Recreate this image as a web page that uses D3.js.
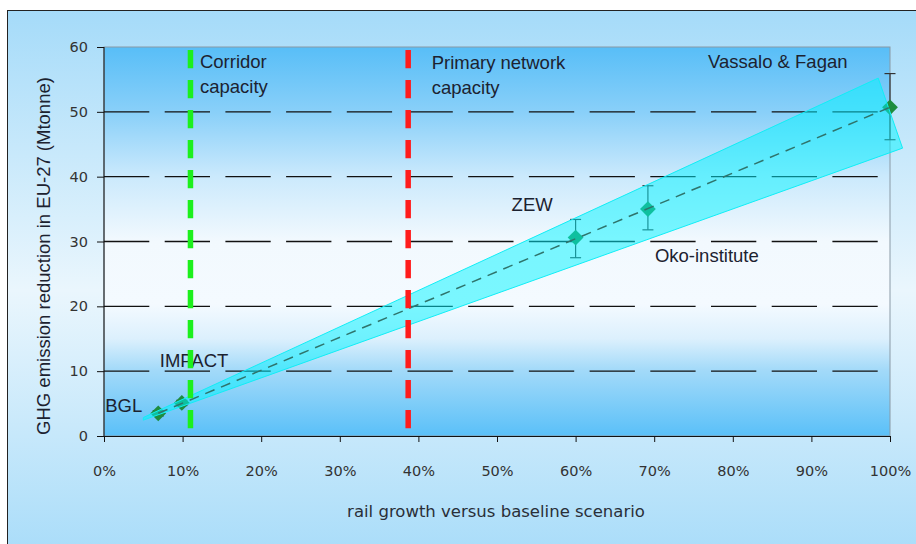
<!DOCTYPE html>
<html>
<head>
<meta charset="utf-8">
<script src="https://cdn.jsdelivr.net/npm/d3@7"></script>
<style>
  body { margin: 0; background: #fff; }
  svg { display: block; }
</style>
</head>
<body>
<svg width="916" height="544"></svg>
<script>
// studies: rail growth (%) vs GHG reduction (Mtonne)
var studies   = ["BGL", "IMPACT", "ZEW", "Oko-institute", "Vassalo & Fagan"];
var growth    = [6.9, 9.9, 60, 69.2, 100];
var reduction = [3.5, 5.1, 30.6, 35.0, 50.7];
var errLow    = [3.1, 4.7, 27.5, 31.8, 45.7];
var errHigh   = [3.9, 5.5, 33.4, 38.6, 55.9];

// shaded band (corners, in data units) and trend line
var bandX = [5.0, 98.5, 101.6, 5.0];
var bandY = [2.85, 55.2, 44.4, 2.45];
var trendX = [6.9, 100];
var trendY = [3.5, 50.7];

// capacity limits
var limitNames = [["Corridor", "capacity"], ["Primary network", "capacity"]];
var limitX = [11.0, 38.7];
var limitColors = ["#1cf01c", "#ff1c1c"];

var xTicks = [0, 10, 20, 30, 40, 50, 60, 70, 80, 90, 100];
var yTicks = [0, 10, 20, 30, 40, 50, 60];

var margin = {top: 47, right: 26, bottom: 108, left: 104},
    width = 916, height = 544;

var svg = d3.select("svg");
var defs = svg.append("defs");

var outerGrad = defs.append("linearGradient").attr("id", "outerGrad")
    .attr("x1", 0).attr("y1", 0).attr("x2", 0).attr("y2", 1);
[[0, "#a5dbf9"], [0.5, "#eaf6fd"], [1, "#a5dbf9"]].forEach(function(s) {
    outerGrad.append("stop").attr("offset", s[0]).attr("stop-color", s[1]);
});

var plotGrad = defs.append("linearGradient").attr("id", "plotGrad")
    .attr("x1", 0).attr("y1", 0).attr("x2", 0).attr("y2", 1);
[[0, "#58bef7"], [0.17, "#8ad0f9"], [0.33, "#cae9fc"], [0.5, "#f2f9fe"],
 [0.66, "#f4faff"], [0.75, "#dcf0fd"], [0.83, "#a3daf9"], [1, "#5ac0f8"]].forEach(function(s) {
    plotGrad.append("stop").attr("offset", s[0]).attr("stop-color", s[1]);
});

// outer frame
svg.append("rect")
    .attr("x", 7.5).attr("y", 10.5).attr("width", 930).attr("height", 560)
    .attr("fill", "url(#outerGrad)").attr("stroke", "#222").attr("stroke-width", 1);

var scX = d3.scaleLinear().domain([0, 100]).range([margin.left, width - margin.right]);
var scY = d3.scaleLinear().domain([0, 60]).range([height - margin.bottom, margin.top]);

// plot area
svg.append("rect")
    .attr("x", scX(0)).attr("y", scY(60))
    .attr("width", scX(100) - scX(0)).attr("height", scY(0) - scY(60))
    .attr("fill", "url(#plotGrad)").attr("stroke", "#8a9aa6").attr("stroke-width", 1);

// dashed horizontal grid
svg.append("g").selectAll("line")
    .data(yTicks.filter(d => d > 0 && d < 60)).enter()
    .append("line")
    .attr("x1", scX(0)).attr("x2", scX(100))
    .attr("y1", d => scY(d)).attr("y2", d => scY(d))
    .attr("stroke", "#111").attr("stroke-width", 1.3)
    .attr("stroke-dasharray", "45.3,15.4");

// axes
var xAxis = svg.append("g")
    .attr("transform", "translate(0," + scY(0) + ")")
    .call(d3.axisBottom(scX).tickValues(xTicks).tickFormat(d => d + "%").tickSize(6).tickPadding(24));
var yAxis = svg.append("g")
    .attr("transform", "translate(" + scX(0) + ",0)")
    .call(d3.axisLeft(scY).tickValues(yTicks).tickSize(7).tickPadding(9));
[xAxis, yAxis].forEach(function(a) {
    a.select(".domain").attr("stroke", "#111");
    a.selectAll(".tick line").attr("stroke", "#111");
    a.selectAll("text").attr("fill", "#333")
        .style("font-family", "'DejaVu Sans', sans-serif").style("font-size", "14.5px");
});
yAxis.select(".domain").attr("d", "M0," + scY(0) + "V" + scY(60));

// axis titles
svg.append("text")
    .attr("x", (scX(0) + scX(100)) / 2 - 1).attr("y", 517)
    .attr("text-anchor", "middle").attr("fill", "#2a2f38")
    .style("font-family", "'DejaVu Sans', sans-serif").style("font-size", "16.5px")
    .text("rail growth versus baseline scenario");

svg.append("text")
    .attr("transform", "translate(50," + 256 + ") rotate(-90)")
    .attr("text-anchor", "middle").attr("fill", "#1c2230")
    .style("font-family", "'Liberation Sans', Arial, sans-serif").style("font-size", "18.5px")
    .text("GHG emission reduction in EU-27 (Mtonne)");

// point labels
var labelFont = "'Liberation Sans', Arial, sans-serif";
var labelOffsets = [[-53, -1], [-22, -36], [-64, -27], [7, 53], [-182, -39]];
svg.append("g").selectAll("text")
    .data(studies).enter()
    .append("text")
    .attr("x", (d, i) => scX(growth[i]) + labelOffsets[i][0])
    .attr("y", (d, i) => scY(reduction[i]) + labelOffsets[i][1])
    .attr("fill", "#1c2230")
    .style("font-family", labelFont).style("font-size", "18.5px")
    .text(d => d);

// error bars
var errs = svg.append("g").attr("stroke", "#333").attr("stroke-width", 1.2);
studies.forEach(function(s, i) {
    var x = scX(growth[i]);
    errs.append("line").attr("x1", x).attr("x2", x)
        .attr("y1", scY(errLow[i])).attr("y2", scY(errHigh[i]));
    [errLow[i], errHigh[i]].forEach(function(v) {
        errs.append("line").attr("x1", x - 5.5).attr("x2", x + 5.5)
            .attr("y1", scY(v)).attr("y2", scY(v));
    });
});

// diamonds
svg.append("g").selectAll("path")
    .data(studies).enter()
    .append("path")
    .attr("d", d3.symbol().type(d3.symbolSquare).size(125))
    .attr("transform", (d, i) => "translate(" + scX(growth[i]) + "," + scY(reduction[i]) + ") rotate(45)")
    .attr("fill", "#1d8d3e");

// band
var bandPts = bandX.map((x, i) => [scX(x), scY(bandY[i])]);
svg.append("path")
    .attr("d", d3.line()(bandPts) + "Z")
    .attr("fill", "#00f4ff").attr("fill-opacity", 0.5)
    .attr("stroke", "#10eef6").attr("stroke-width", 1);

// trend line
svg.append("path")
    .attr("d", d3.line().x((d, i) => scX(trendX[i])).y(d => scY(d))(trendY))
    .attr("fill", "none").attr("stroke", "#2f746c").attr("stroke-width", 1.5)
    .attr("stroke-dasharray", "10,7");

// capacity lines and labels
limitX.forEach(function(v, i) {
    var x = scX(v);
    svg.append("line")
        .attr("x1", x).attr("x2", x).attr("y1", 50).attr("y2", scY(0))
        .attr("stroke", limitColors[i]).attr("stroke-width", 5.5)
        .attr("stroke-dasharray", "18.3,11.7");
    var t = svg.append("text")
        .attr("fill", "#1c2230")
        .style("font-family", labelFont).style("font-size", "18.5px");
    limitNames[i].forEach(function(line, j) {
        t.append("tspan")
            .attr("x", x + (i === 0 ? 9.5 : 23.5))
            .attr("y", 68 + i + j * 25)
            .text(line);
    });
});
</script>
</body>
</html>
